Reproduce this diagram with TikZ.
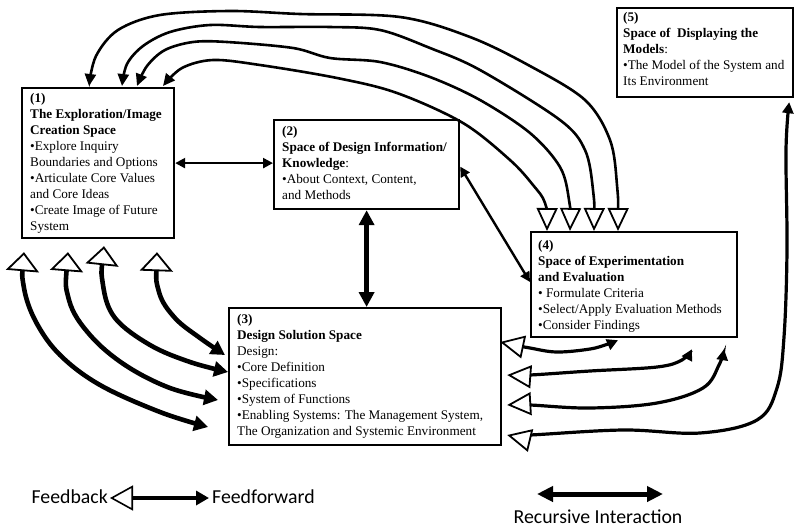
\documentclass[tikz,border=0pt]{standalone}
\usepackage{fontspec}
\setmainfont{Liberation Serif}
\newfontfamily\legendfont{Carlito}
\usetikzlibrary{arrows.meta}

\begin{document}
\begin{tikzpicture}[x=1pt,y=-1pt,
  box/.style={draw, line width=2.2pt, anchor=north west, inner sep=0pt},
  txt/.style={anchor=north west, align=left, inner sep=0pt,
    font=\fontsize{13.2}{16}\selectfont},
  legend/.style={inner sep=0pt, font=\legendfont\fontsize{19.8}{24}\selectfont},
  topfb/.style={line width=2.6pt,
    arrows={Triangle[fill=white,length=23pt,width=21pt,line width=1.8pt]-Triangle[length=12pt,width=11pt]}},
  leftfb/.style={line width=4.6pt,
    arrows={Triangle[fill=white,length=19pt,width=33pt,line width=1.8pt]-Triangle[length=14pt,width=15pt]}},
  rightfb/.style={line width=3.2pt,
    arrows={Triangle[fill=white,length=24pt,width=23pt,line width=1.8pt]-Triangle[length=11pt,width=11pt]}},
  thinlink/.style={line width=2.4pt,
    arrows={Triangle[length=10pt,width=10pt]-Triangle[length=10pt,width=10pt]}},
  thicklink/.style={line width=5pt,
    arrows={Triangle[length=15pt,width=15pt]-Triangle[length=15pt,width=15pt]}}
]
\useasboundingbox (0,0) rectangle (795,528);

% the five spaces
\node[box, minimum width=152pt, minimum height=150pt] (b1) at (21,87) {};
\node[box, minimum width=185pt, minimum height=89pt]  (b2) at (273,119) {};
\node[box, minimum width=272pt, minimum height=137pt] (b3) at (228,307) {};
\node[box, minimum width=206pt, minimum height=105pt] (b4) at (530,231) {};
\node[box, minimum width=176pt, minimum height=89pt]  (b5) at (616,7) {};

\node[txt] (t1) at ([shift={(9,6)}]b1.north west) {%
\textbf{(1)}\\
\textbf{The Exploration/Image}\\
\textbf{Creation Space}\\
•Explore Inquiry\\
Boundaries and Options\\
•Articulate Core Values\\
and Core Ideas\\
•Create Image of Future\\
System};

\node[txt] (t2) at ([shift={(9,7)}]b2.north west) {%
\textbf{(2)}\\
\textbf{Space of Design Information/}\\
\textbf{Knowledge}:\\
•About Context, Content,\\
and Methods};

\node[txt] (t3) at ([shift={(9,7)}]b3.north west) {%
\textbf{(3)}\\
\textbf{Design Solution Space}\\
Design:\\
•Core Definition\\
•Specifications\\
•System of Functions\\
•Enabling Systems: The Management System,\\
The Organization and Systemic Environment};

\node[txt] (t4) at ([shift={(8,9)}]b4.north west) {%
\textbf{(4)}\\
\textbf{Space of Experimentation}\\
\textbf{and Evaluation}\\
• Formulate Criteria\\
•Select/Apply Evaluation Methods\\
•Consider Findings};

\node[txt] (t5) at ([shift={(7,5)}]b5.north west) {%
\textbf{(5)}\\
\textbf{Space of\ \ Displaying the}\\
\textbf{Models}:\\
•The Model of the System and\\
Its Environment};

% recursive links between the spaces
\draw[thinlink] (b1.east) -- (b1.east -| b2.west);
\draw[thicklink] (b2.south) -- (b2.south |- b3.north);
\coordinate (d4) at ([shift={(0,51)}]b4.north west);
\draw[thinlink] ([yshift=-2pt]b2.east) -- (d4);

% feedback from (4) to (1), over the top
\coordinate (a1) at ([shift={(88,0)}]b4.north west);
\coordinate (a2) at ([shift={(64,0)}]b4.north west);
\coordinate (a3) at ([shift={(40,0)}]b4.north west);
\coordinate (a4) at ([shift={(17,0)}]b4.north west);
\coordinate (e1) at ([shift={(68,-1)}]b1.north west);
\coordinate (e2) at ([shift={(101,-1)}]b1.north west);
\coordinate (e3) at ([shift={(116,-1)}]b1.north west);
\coordinate (e4) at ([shift={(142,-1)}]b1.north west);
\draw[topfb] plot[smooth, tension=0.55] coordinates {(a1) (617,185) (610,140) (585,100) (530,66) (470,37) (400,17) (300,14) (230,11) (160,15) (118,30) (96,56) (e1)};
\draw[topfb] plot[smooth, tension=0.55] coordinates {(a2) (593,190) (585,150) (560,120) (480,70) (430,48) (380,30) (330,27) (260,27) (210,25) (170,32) (143,46) (127,64) (e2)};
\draw[topfb] plot[smooth, tension=0.55] coordinates {(a3) (569,200) (560,167) (530,133) (480,100) (430,77) (380,62) (330,58) (293,48) (227,42) (193,42) (165,50) (147,66) (e3)};
\draw[topfb] plot[smooth, tension=0.55] coordinates {(a4) (545,203) (533,185) (510,160) (463,123) (397,93) (337,78) (260,65) (213,60) (182,68) (e4)};

% feedback from (3) to (1), down the left side
\coordinate (p1) at ([shift={(3,13)}]b1.south west);
\coordinate (p2) at ([shift={(47,13)}]b1.south west);
\coordinate (p3) at ([shift={(83,7)}]b1.south west);
\coordinate (p4) at ([shift={(136,13)}]b1.south west);
\coordinate (q1) at ([shift={(-20,120)}]b3.north west);
\coordinate (q2) at ([shift={(-10,93)}]b3.north west);
\coordinate (q3) at ([shift={(0,65)}]b3.north west);
\coordinate (q4) at ([shift={(-3,48)}]b3.north west);
\draw[leftfb] plot[smooth, tension=0.6] coordinates {(p1) (24,288) (36,322) (60,355) (100,385) (160,412) (q1)};
\draw[leftfb] plot[smooth, tension=0.6] coordinates {(p2) (69,300) (90,335) (125,365) (170,388) (q2)};
\draw[leftfb] plot[smooth, tension=0.6] coordinates {(p3) (103,285) (115,318) (150,345) (190,362) (q3)};
\draw[leftfb] plot[smooth, tension=0.6] coordinates {(p4) (159,292) (175,318) (200,338) (q4)};

% feedback from (4) and (5) to (3), on the right
\coordinate (r1) at ([shift={(-2,35)}]b3.north east);
\coordinate (r2) at ([shift={(5,68)}]b3.north east);
\coordinate (r3) at ([shift={(5,98)}]b3.north east);
\coordinate (r4) at ([shift={(5,128)}]b3.north east);
\coordinate (g1) at ([shift={(88,2)}]b4.south west);
\coordinate (g2) at ([shift={(162,11)}]b4.south west);
\coordinate (g3) at ([shift={(194,11)}]b4.south west);
\coordinate (g4) at ([shift={(-5,4)}]b5.south east);
\draw[rightfb] plot[smooth, tension=0.6] coordinates {(r1) (530,348) (557,352) (590,349) (608,344) (g1)};
\draw[rightfb] plot[smooth, tension=0.6] coordinates {(r2) (530,375) (590,371) (657,367) (682,360) (g2)};
\draw[rightfb] plot[smooth, tension=0.6] coordinates {(r3) (530,405) (590,408) (657,403) (703,388) (719,365) (g3)};
\draw[rightfb] plot[smooth, tension=0.6] coordinates {(r4) (530,435) (623,430) (700,433) (757,420) (777,388) (784,337) (787,250) (786,150) (g4)};

% legend
\node[legend, anchor=base east] (lfb) at (108,503) {Feedback};
\node[legend, anchor=base west] (lff) at (212,503) {Feedforward};
\coordinate (lft) at (110,498);
\coordinate (lhd) at (209,498);
\draw[line width=4.5pt,
  arrows={Triangle[fill=white,length=23pt,width=25pt,line width=1.6pt]-Triangle[length=13pt,width=14pt]}]
  (lft) -- (lhd);

\coordinate (ri1) at (537,494);
\coordinate (ri2) at (663,494);
\draw[line width=5pt,
  arrows={Triangle[length=16pt,width=15pt]-Triangle[length=16pt,width=15pt]}] (ri1) -- (ri2);
\node[legend, anchor=base] (lri) at (598,523) {Recursive Interaction};
\end{tikzpicture}
\end{document}
